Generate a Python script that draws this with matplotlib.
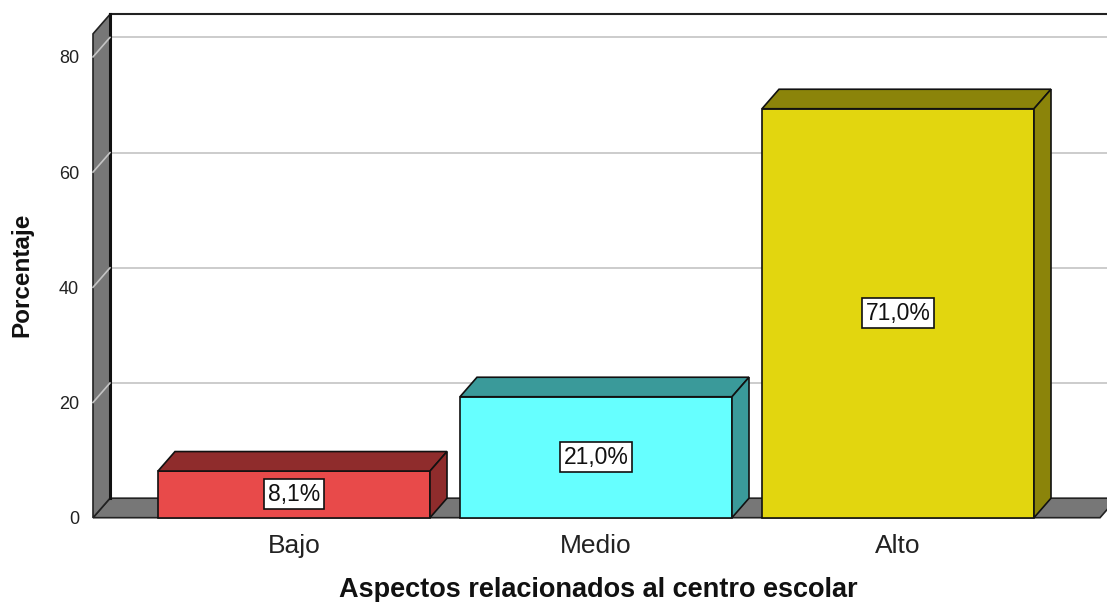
import matplotlib
matplotlib.use("Agg")
import matplotlib.pyplot as plt
from matplotlib.patches import Polygon

plt.rcParams['font.family'] = ['Liberation Sans', 'DejaVu Sans']

categories = ["Bajo", "Medio", "Alto"]
values = [8.1, 21.0, 71.0]
labels = ["8,1%", "21,0%", "71,0%"]
front_colors = ["#E84A4A", "#66FFFF", "#E2D60F"]
dark_colors = ["#8F2C2C", "#3A9A9A", "#8B840A"]
yticks = [0, 20, 40, 60, 80]

# geometry (pixel-derived)
W, H = 1107, 602
px_per_cat = 302.0
px_per_unit = 5.76
x0_px = 294.0          # centre of first category
zero_px = 517.7        # y pixel of value 0 (front)
ymax = 84.0
dxp, dyp = 17.0, 19.5  # depth in pixels
DX = dxp / px_per_cat
DY = dyp / px_per_unit
bar_w = 272.0 / px_per_cat

wall_px = 93.0
xl = (wall_px - x0_px) / px_per_cat
xr = (W - x0_px) / px_per_cat
floor_r = (1100 - x0_px) / px_per_cat

fig = plt.figure(figsize=(W / 100, H / 100), dpi=100)
bottom = (H - zero_px) / H
top = (H - (zero_px - ymax * px_per_unit)) / H
ax = fig.add_axes([wall_px / W, bottom, 1 - wall_px / W, top - bottom])
ax.set_xlim(xl, xr)
ax.set_ylim(0, ymax)
for s in ax.spines.values():
    s.set_visible(False)

grid_c = "#C4C4C4"
wall_c = "#777777"

# back gridlines + wall diagonals
for t in yticks[1:]:
    ax.plot([xl + DX, xr + 1], [t + DY, t + DY], color=grid_c, lw=1.2,
            clip_on=False, zorder=1)
# top frame line
ax.plot([xl + DX, xr + 1], [ymax + DY, ymax + DY], color="#222222", lw=1.5,
        clip_on=False, zorder=1)

# floor
ax.add_patch(Polygon([(xl, 0), (floor_r, 0), (floor_r + DX, DY), (xl + DX, DY)],
                     closed=True, facecolor=wall_c, edgecolor="#222222", lw=1.2,
                     clip_on=False, zorder=2))
# left wall
ax.add_patch(Polygon([(xl, 0), (xl, ymax), (xl + DX, ymax + DY), (xl + DX, DY)],
                     closed=True, facecolor=wall_c, edgecolor="#222222", lw=1.2,
                     clip_on=False, zorder=2))
ax.plot([xl + DX, xl + DX], [DY, ymax + DY], color="#111111", lw=2.2,
        clip_on=False, zorder=3)
for t in yticks[1:]:
    ax.plot([xl, xl + DX], [t, t + DY], color=grid_c, lw=1.2,
            clip_on=False, zorder=3)

# bars
for i, (v, fc, dc, lab) in enumerate(zip(values, front_colors, dark_colors, labels)):
    l, r = i - bar_w / 2, i + bar_w / 2
    ax.add_patch(Polygon([(l, 0), (r, 0), (r, v), (l, v)], closed=True,
                         facecolor=fc, edgecolor="#111111", lw=1.2, zorder=5, clip_on=False))
    ax.add_patch(Polygon([(l, v), (r, v), (r + DX, v + DY), (l + DX, v + DY)], closed=True,
                         facecolor=dc, edgecolor="#111111", lw=1.2, zorder=5, clip_on=False))
    ax.add_patch(Polygon([(r, 0), (r + DX, DY), (r + DX, v + DY), (r, v)], closed=True,
                         facecolor=dc, edgecolor="#111111", lw=1.2, zorder=5, clip_on=False))
    ax.text(i, v / 2, lab, ha="center", va="center", fontsize=16.5, color="#111111",
            zorder=6, bbox=dict(boxstyle="square,pad=0.15", facecolor="white",
                                edgecolor="#111111", lw=1.2))

ax.set_xticks(range(len(categories)))
ax.set_xticklabels(categories, fontsize=19, color="#222222")
ax.set_yticks(yticks)
ax.set_yticklabels([str(t) for t in yticks], fontsize=13, color="#222222")
ax.tick_params(axis="x", length=0, pad=12)
ax.tick_params(axis="y", length=0, pad=10)

fig.text(598 / W, 1 - 590 / H, "Aspectos relacionados al centro escolar",
         ha="center", va="center", fontsize=19.5, fontweight="bold", color="#111111")
fig.text(22 / W, 1 - 275 / H, "Porcentaje", ha="center", va="center", rotation=90,
         fontsize=17.5, fontweight="bold", color="#111111")

fig.savefig("out.png", dpi=100, facecolor="white")
